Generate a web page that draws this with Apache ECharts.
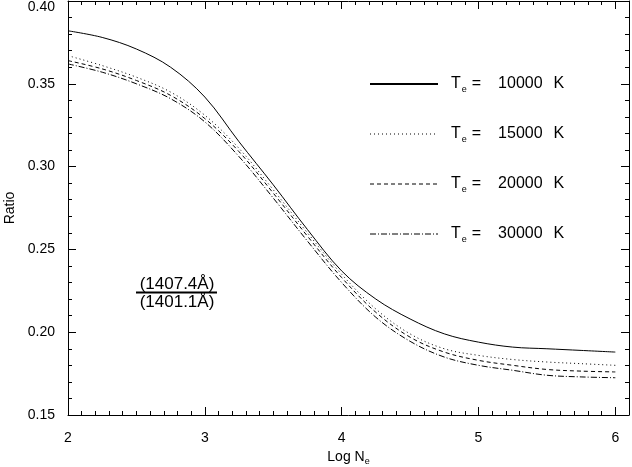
<!DOCTYPE html>
<html>
<head>
<meta charset="utf-8">
<script src="https://cdn.jsdelivr.net/npm/echarts@6/dist/echarts.min.js"></script>
<style>
  html, body { margin: 0; padding: 0; background: #fff; }
  #chart { width: 632px; height: 467px; }
</style>
</head>
<body>
<div id="chart"></div>
<script>
// values
const logNe = [2.0, 2.25, 2.5, 2.75, 3.0, 3.25, 3.5, 3.75, 4.0, 4.25, 4.5, 4.75, 5.0, 5.25, 5.5, 5.75, 6.0]
const ratio10000 = [0.382, 0.378, 0.371, 0.360, 0.342, 0.315, 0.289, 0.262, 0.237, 0.220, 0.208, 0.199, 0.194, 0.191, 0.190, 0.189, 0.188]
const ratio15000 = [0.367, 0.361, 0.354, 0.345, 0.331, 0.311, 0.286, 0.260, 0.235, 0.214, 0.199, 0.190, 0.186, 0.1835, 0.182, 0.181, 0.180]
const ratio20000 = [0.364, 0.359, 0.352, 0.343, 0.329, 0.309, 0.284, 0.258, 0.233, 0.212, 0.197, 0.188, 0.183, 0.180, 0.1775, 0.1765, 0.176]
const ratio30000 = [0.362, 0.357, 0.350, 0.341, 0.327, 0.306, 0.281, 0.255, 0.230, 0.209, 0.1945, 0.185, 0.180, 0.177, 0.174, 0.173, 0.1725]
const temps = ['10000', '15000', '20000', '30000']
const xTicks = [2, 3, 4, 5, 6]
const yTicks = [0.15, 0.20, 0.25, 0.30, 0.35, 0.40]

const font = 'Liberation Sans'
const black = '#000'

const chart = echarts.init(document.getElementById('chart'))

const pairs = (ys) => logNe.map((x, i) => [x, ys[i]])

function majorAxis (position, extra) {
  return Object.assign({
    type: 'value',
    position: position,
    axisLine: { show: true, onZero: false, lineStyle: { color: black, width: 1 } },
    axisTick: { show: true, inside: true, length: 8, lineStyle: { color: black } },
    axisLabel: { show: false },
    splitLine: { show: false }
  }, extra)
}

function minorAxis (position, extra) {
  return Object.assign({
    type: 'value',
    position: position,
    axisLine: { show: false },
    axisTick: { show: true, inside: true, length: 4, lineStyle: { color: black } },
    axisLabel: { show: false },
    splitLine: { show: false }
  }, extra)
}

const xRange = { min: xTicks[0], max: 6.1 }
const yRange = { min: yTicks[0], max: yTicks[yTicks.length - 1] }

const lineStyles = [
  { type: 'solid', width: 1 },
  { type: [1, 3], width: 1 },
  { type: [4, 3], width: 1 },
  { type: [6, 2, 1, 2], width: 1 }
]
const series = [ratio10000, ratio15000, ratio20000, ratio30000].map((ys, i) => ({
  name: temps[i],
  type: 'line',
  xAxisIndex: 0,
  yAxisIndex: 0,
  data: pairs(ys),
  smooth: 0.35,
  showSymbol: false,
  symbol: 'none',
  color: black,
  lineStyle: Object.assign({ color: black }, lineStyles[i])
}))

const option = {
  animation: false,
  backgroundColor: '#fff',
  textStyle: { fontFamily: font, color: black },
  grid: { left: 68, right: 3, top: 1, bottom: 52, containLabel: false, outerBoundsMode: 'none' },
  legend: {
    orient: 'vertical',
    left: 369,
    top: 76,
    padding: 0,
    itemWidth: 68,
    itemHeight: 14,
    itemGap: 32,
    itemStyle: { opacity: 0 },
    data: temps.map((t, i) => ({ name: t, lineStyle: { width: i === 0 ? 2 : 1 } })),
    formatter: (name) => '{t|T}{sub|e}{eq|=}{num|' + name + '}{k|K}',
    textStyle: {
      color: black,
      fontFamily: font,
      rich: {
        t: { fontSize: 16, fontFamily: font, color: black, padding: [0, 0, 0, 8] },
        sub: { fontSize: 9, fontFamily: font, color: black, padding: [11, 0, 0, 1] },
        eq: { fontSize: 16, fontFamily: font, color: black, padding: [0, 0, 0, 5] },
        num: { fontSize: 16, fontFamily: font, color: black, padding: [0, 0, 0, 17] },
        k: { fontSize: 16, fontFamily: font, color: black, padding: [0, 0, 0, 11] }
      }
    },
    selectedMode: false
  },
  xAxis: [
    majorAxis('bottom', Object.assign({
      interval: 1,
      name: 'Log N{sub|e}',
      nameLocation: 'middle',
      nameGap: 32,
      nameTextStyle: {
        fontSize: 14,
        fontFamily: font,
        color: black,
        rich: { sub: { fontSize: 9, fontFamily: font, color: black, padding: [10, 0, 0, 0] } }
      },
      axisLabel: {
        show: true,
        showMaxLabel: false,
        margin: 16,
        color: black,
        fontSize: 14,
        fontFamily: font
      }
    }, xRange)),
    minorAxis('bottom', Object.assign({ interval: 0.1 }, xRange)),
    majorAxis('top', Object.assign({ interval: 1 }, xRange)),
    minorAxis('top', Object.assign({ interval: 0.1 }, xRange))
  ],
  yAxis: [
    majorAxis('left', Object.assign({
      interval: 0.05,
      name: 'Ratio',
      nameLocation: 'middle',
      nameGap: 42,
      nameTextStyle: { fontSize: 14, fontFamily: font, color: black },
      axisLabel: {
        show: true,
        margin: 13,
        color: black,
        fontSize: 14,
        fontFamily: font,
        formatter: (v) => Math.abs(v - 0.4) < 1e-9 ? '{top|' + v.toFixed(2) + '}' : v.toFixed(2),
        rich: { top: { fontSize: 14, fontFamily: font, color: black, padding: [12, 0, 0, 0] } }
      }
    }, yRange)),
    minorAxis('left', Object.assign({ interval: 0.01 }, yRange)),
    majorAxis('right', Object.assign({ interval: 0.05 }, yRange)),
    minorAxis('right', Object.assign({ interval: 0.01 }, yRange))
  ],
  graphic: [
    {
      type: 'text',
      style: { x: 177, y: 284, text: '(1407.4Å)', align: 'center', verticalAlign: 'middle', fontSize: 17, fontFamily: font, fill: black }
    },
    {
      type: 'line',
      shape: { x1: 136, y1: 292.5, x2: 217, y2: 292.5 },
      style: { stroke: black, lineWidth: 2 }
    },
    {
      type: 'text',
      style: { x: 177, y: 302, text: '(1401.1Å)', align: 'center', verticalAlign: 'middle', fontSize: 17, fontFamily: font, fill: black }
    }
  ],
  series: series
}

chart.setOption(option)

window.addEventListener('resize', () => {
  chart.resize()
})
</script>
</body>
</html>
